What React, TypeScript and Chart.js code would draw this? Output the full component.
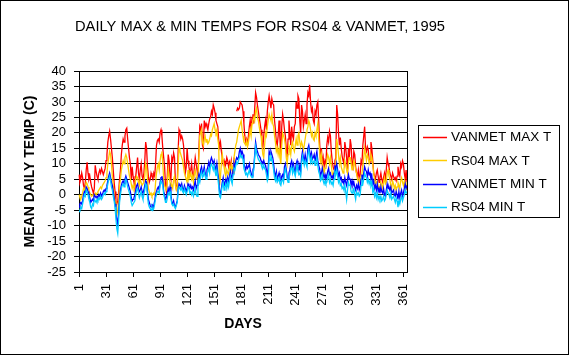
import React, { useEffect, useRef } from "react";
import { Chart, registerables } from "chart.js";

Chart.register(...registerables);

const TITLE = "DAILY MAX & MIN TEMPS FOR RS04 & VANMET, 1995";
const X_TITLE = "DAYS";
const Y_TITLE = "MEAN DAILY TEMP (C)";

const DAYS: string[] = Array.from({ length: 365 }, (_, i) => String(i + 1));
const TICK_DAYS = [1, 31, 61, 91, 121, 151, 181, 211, 241, 271, 301, 331, 361];
const Y_MIN = -25;
const Y_MAX = 40;
const Y_STEP = 5;

const SERIES_NAMES = ["VANMET MAX T", "RS04 MAX T", "VANMET MIN T", "RS04 MIN T"];
const SERIES_COLORS = ["#FF0000", "#FFCC00", "#0000FF", "#00CCFF"];

const VANMET_MAX: (number | null)[] = [
  6.5, 4, 5, 7, 5.5, 3, 2, 4, 8, 10.5,
  7, 5, 6, 4, 2.5, 1.5, 0.5, 2, 9.5, 7.5,
  6, 5, 7, 8, 7, 8.5, 7.5, 6.5, 7.5, 8.5,
  11, 13, 17, 19, 20.5, 18, 15, 12, 8, 4,
  1, -2, -3, -2, 1, 5, 8, 13, 16, 18,
  17, 19, 21, 21.5, 18, 15, 12, 10, 5, 9,
  6, 4, 2, 6, 9, 12, 7, 5, 8, 10,
  6, 5, 7, 11, 17, 15, 9, 6, 4, 5,
  7, 6, 5, 7, 6, 10, 16, 17.5, 18, 17,
  20, 21, 19, 15, 12, 9, 3, 1, 6, 13,
  11, 6, 5, 12, 11, 13.5, 12, 4, 2, 3,
  14, 21, 20, 18, 19, 18, 16, 11, 7, 9,
  15, 11, 9, 7, 8, 10, 6, 5, 9, 12,
  10, 8, 6, 14, 22, 21, 23, 16, 15, 24,
  22, 23, 22, 21, 23, 24.5, 25, 27, 26, 29,
  28, 26.5, 24, 23, 22, 18, 15.5, 17, 14, 12,
  10, 11, 9, 10, 12, 11, 9, 10.5, 9, 11,
  8, 7, 12, null, null, 27, 28, 27.5, 28, 30,
  29.5, 29, 27, 23, 19, 17, 18, 16, 19, 22,
  24, 21, 25, 26, 23, 28, 33, 31.5, 29, 27,
  25, 23, 21, 17, 15, 19, 22, 24, 21, 27,
  30, 32, 30, 28, 31, 29.5, 29, 24, 21, 17,
  16, 19, 24, 18, 13, 22, 26, 24, 21, 19,
  15, 12, 18, 24, 20, 16, 22, 19, 18, 22,
  23, 30, 28, 32, 31, 24, 20, 29, 27, 22,
  24, 26, 23, 29, 33, 32, 35.5, 30, 27, 28,
  24, 23, 27, 26, 29, 30, 24, 17, 11, 15,
  10, 12, 9, 11, 10, 16, 18.5, 17, 20.5, 19,
  14, 11, 9, 8, 11, 12, 29, 26, 20, 16,
  18.5, 15, 12.5, 11, 10, 17, 15, 12, 7, 15,
  12, 18, 16, 10, 9, 14, 13, 9, 7, 6,
  8, 5, 6.5, 11, 10, 16, 19, 22, 15, 14,
  15.5, 14.5, 11, 10.5, 17, 15, 11, 7, 6, 5,
  7, 8, 6, 4, 5.5, 7, 5, 4, 5.5, 7,
  5, 8, 12, 10, 9, 7, 6, 5, 7, 6,
  5, 5.5, 4.5, 6, 9, 7, 6, 10, 9, 11,
  10, 7, 5, 8, 4,
];

const RS04_MAX: number[] = [
  0, -1, -1.5, -0.5, 0.5, 2, 1.5, 2.5, 4, 3.5,
  2.5, 1.5, 0.5, 0, -0.5, 0, -0.5, 0, 0.5, 0,
  0.5, 1, 1.5, 2, 2.5, 2, 3, 3.5, 4, 4.5,
  5.5, 7, 10, 12, 14, 13, 10, 6, 3, 0,
  -2, -5, -6.5, -5, -2, 3, 5, 8, 9.5, 11,
  10, 12, 13, 12, 10, 8, 6, 5, 3.5, 2,
  3, 2, 3, 5, 6, 5.5, 4, 3, 5, 4,
  3, 3, 4, 6, 10, 9, 5, 2, 1, 0,
  0.5, -0.5, 0, 0.5, 0, 4, 7, 9, 10, 8,
  11, 13, 14, 10, 5, 3, 2, 1.5, 4, 8,
  6, 4, 2, 3, 2, 5, 6, 3, 1.5, 2.5,
  9, 15, 14, 13, 12, 11, 9, 7, 6, 5,
  4, 8, 5, 6, 7, 5, 6, 4, 7, 8,
  6, 5, 6, 12, 19, 20, 21, 17, 16, 18,
  19, 17, 18, 16.5, 17, 18, 19.5, 19, 21, 22,
  23, 21, 20, 21, 18, 16, 3, 6, 10, 13,
  11, 9, 7, 6, 8, 7, 6.5, 9, 8, 10,
  8, 9, 12, 14, 16, 17, 19, 21, 22, 23,
  24, 21, 19, 17, 16.5, 16, 17.5, 15.5, 17, 19,
  21, 19, 23, 24, 25, 24, 27, 28, 25, 24,
  22, 20, 19, 16, 13, 12, 16, 20, 19, 22,
  24, 26, 25, 24, 26, 23, 22, 19, 17, 14,
  15, 13, 15, 12, 10, 16, 20, 19, 18, 16,
  12, 10, 13, 16, 15, 13, 16, 17, 15, 14,
  16, 18, 16, 19, 20, 17, 15.5, 17, 16, 14.5,
  16, 18, 20, 21, 22, 24, 23, 21, 19, 20,
  18, 17.5, 20, 19, 21, 23, 18, 14, 11, 13,
  10, 9, 7, 8.5, 9, 11, 13, 12, 10, 12,
  9.5, 7, 6, 7.5, 8, 9, 18, 16, 13, 10,
  12, 9, 8, 7, 8, 11, 9.5, 8, 7, 10,
  12, 12, 10, 8, 9, 11, 10, 8, 7, 5,
  4, 5, 3.5, 6, 7, 9, 12, 15, 13, 11,
  13, 12, 10, 11, 13, 12, 10, 7, 5, 3,
  4, 4.5, 3, 2, 2.5, 4, 3, 2, 4, 5.5,
  3.5, 4, 7, 8, 6, 5, 3, 2, 4.5, 3.5,
  2, 3, 1.5, 2.5, 4, 3, 2, 4.5, 5.5, 4,
  3, 4.5, 2, 3.5, 1.5,
];

const VANMET_MIN: number[] = [
  -4, -3, -2.5, -3, -2, 0, 1, 0.5, 2.5, 2,
  1, 0, -1, -2.5, -2, -1.5, -2, 0, -0.5, -1,
  -0.5, -1, 0, -0.5, 0.5, -0.5, 0, 1, 1.5, 1,
  2, 3, 4.5, 6, 7, 5.5, 4, 3, 1, -1,
  -3, -6, -8, -9.5, -6, -1, 1.5, 3, 4, 4.5,
  3.5, 5, 6, 5, 4, 3, 2, 1, -1, -2,
  -1.5, -1, 0, 1.5, 3, 3.5, 2, 1, 1.5, 2.5,
  1, 0.5, 1.5, 3, 4.5, 4, 1, -1.5, -2.5, -3.5,
  -4, -3, -4.5, -3.5, -2, 0, 1, 2, 2.5, 1.5,
  4, 5.5, 6, 4.5, 1, 0, -1.5, -1, 0.5, 2,
  1, 2.5, 0, -2.5, -3, -2, -3.5, -4, -3, -2,
  2, 3.5, 3, 2.5, 3.5, 2, 1.5, 3, 2, 1,
  2, 3.5, 3, 2, 3, 2, 2.5, 1.5, 3, 4.5,
  2, 3, 5, 6.5, 5, 8, 9, 7, 7.5, 9,
  7, 6, 8, 9, 10.5, 9, 11, 12, 11, 10,
  11, 9, 8, 10, 7, 5, 1, 0, 2, 4,
  5.5, 3, 4, 5, 3.5, 5.5, 4, 6, 7.5, 6,
  5, 8, 10, 9, 11, 12, 11.5, 12, 14, 15,
  13, 14, 13, 10, 9, 8, 9.5, 8.5, 9, 10,
  8, 7, 6, 8, 9, 13, 17, 15, 14, 13,
  12.5, 12, 11, 10.5, 10, 11, 10, 9.5, 8, 6,
  9, 14, 13, 14, 13, 12, 10, 7, 6, 7.5,
  5, 6, 7, 5, 4.5, 6, 6.5, 5, 9, 10,
  8, 6, 5, 7, 8, 10, 11, 9, 10, 8,
  7, 10, 11, 9, 8, 9.5, 7.5, 12, 14, 12,
  11, 13, 11, 10.5, 15, 16, 14, 12, 13.5, 11.5,
  12, 13, 11, 12.5, 14, 11, 9.5, 8.5, 6, 7,
  8.5, 6.5, 5.5, 6.5, 5, 6, 7.5, 8.5, 6.5, 7,
  5.5, 6, 5, 7, 9.5, 8, 10, 8, 6, 7,
  5, 5.5, 4, 4.5, 3.5, 5.5, 4, 3, 5, 6.5,
  5, 5, 3, 4.5, 3, 4, 2.5, 1.5, 3, 2,
  3.5, 1.5, 2.5, 5, 6.5, 5, 7, 9, 8, 7.5,
  6, 8, 6.5, 7, 5, 6, 3.5, 4.5, 2, 3,
  1.5, 3.5, 1, 2, 0.5, 2.5, 1, 0.5, 2, 0,
  -0.5, 1.5, 3.5, 2, 2.5, 1.5, 2.5, 0.5, 1, 1.5,
  0, -0.5, 1, 0, -1.5, 1, -1, 0.5, 1.5, -0.5,
  0.5, 2, 3.5, 2, 3,
];

const RS04_MIN: number[] = [
  -5.5, -5, -4, -4.5, -3, -1.5, 0, -0.5, 1.5, 1,
  0, -1.5, -2.5, -4, -4.5, -3, -3.5, -1.5, -2, -2.5,
  -1.5, -2, -1, -1.5, -0.5, -1.5, -1, 0, 0.5, 0,
  1, 2, 3.5, 5, 6, 4.5, 2.5, 1.5, -0.5, -2,
  -4, -8, -11, -12.5, -8, -2.5, 0, 2, 3, 3.5,
  2.5, 4, 5, 4, 2.5, 1.5, 0.5, -0.5, -2.5, -3.5,
  -3, -3, -2, 0, 1.5, 2, 0.5, -1, 0, 1,
  -0.5, -1.5, 0, 1.5, 3.5, 3, -0.5, -3, -4, -4.5,
  -5, -4, -5, -4.5, -3, -1, 0, 1, 1, 0.5,
  3, 4.5, 4.5, 3, 0, -1, -2.5, -2.5, -1, 0.5,
  0, 1, -1, -3, -3.5, -3, -4, -4.5, -3.5, -2.5,
  1, 2.5, 2, 1.5, 2.5, 1, 0.5, 2, 1, 0,
  1, 2.5, 2, 0.5, 1, 0, 1, -0.5, 0.5, 2,
  0, -0.5, 3, 5, 4, 6.5, 7.5, 5.5, 6, 7.5,
  6, 5, 6.5, 7.5, 8.5, 7, 9.5, 10, 9, 8,
  9.5, 7.5, 6, 8, 5.5, 3, -0.5, -1, 1, 3,
  4, 1.5, 2.5, 3.5, 2, 4, 2.5, 4.5, 6, 4.5,
  3.5, 6.5, 8.5, 8, 9.5, 10.5, 10, 11, 12, 13,
  12, 12.5, 11.5, 8.5, 7.5, 6.5, 7, 6, 7, 8,
  6.5, 6, 5.5, 7, 8, 12, 15.5, 13.5, 12.5, 11.5,
  11, 10.5, 10, 9, 8.5, 9.5, 8.5, 8, 6.5, 4.5,
  5.5, 12, 11, 12.5, 11.5, 10, 8, 5.5, 4.5, 6,
  4, 4.5, 5.5, 3.5, 3, 4.5, 5, 4, 7, 8.5,
  7, 5, 4, 5.5, 6.5, 8.5, 9, 7, 8.5, 7,
  6, 8, 9.5, 7.5, 6.5, 7, 6, 10, 12.5, 11,
  9.5, 11, 10, 9, 13, 14.5, 12.5, 10.5, 12, 10,
  10.5, 11, 9.5, 10.5, 12, 9.5, 7.5, 6.5, 4.5, 5,
  6.5, 4.5, 3.5, 4.5, 3.5, 4, 5.5, 6.5, 4, 5,
  3.5, 4, 3, 5, 7.5, 6.5, 8, 6, 4, 5,
  3, 3.5, 2, 2.5, 1.5, 3, 1, -1.5, 1.5, 4,
  3, 3, 1, 0.5, 1.5, 2, 0, -1.5, 1, 0,
  0.5, -0.5, 0, 3, 4.5, 3.5, 5, 7, 6, 5.5,
  4, 5, 3.5, 4.5, 3, 4, 1, 2, -0.5, 0.5,
  -1, 0.5, -1.5, -0.5, -1.5, -0.5, -2, -1.5, -0.5, -2,
  -1.5, 0, 1.5, 0.5, 0, -1, 0.5, -1.5, -1, -0.5,
  -1.5, -2.5, -1, -2, -4, -2, -3, -1.5, -0.5, -2,
  -1, 0, 1.5, 0.5, 1,
];

const SERIES_DATA = [VANMET_MAX, RS04_MAX, VANMET_MIN, RS04_MIN];

const FONT = '"Liberation Sans", Arial, sans-serif';

const decorPlugin = {
  id: "decor",
  beforeDraw(chart: any) {
    const { ctx, width, height } = chart;
    ctx.save();
    ctx.fillStyle = "#FFFFFF";
    ctx.fillRect(0, 0, width, height);
    ctx.restore();
  },
  afterDraw(chart: any) {
    const { ctx, chartArea: a, width, height } = chart;
    ctx.save();
    ctx.strokeStyle = "#000000";
    ctx.lineWidth = 1;
    // plot area right edge
    const rx = Math.round(a.right) + 0.5;
    ctx.beginPath();
    ctx.moveTo(rx, Math.round(a.top));
    ctx.lineTo(rx, Math.round(a.bottom) + 1);
    ctx.stroke();

    ctx.fillStyle = "#000000";
    ctx.textAlign = "center";
    ctx.textBaseline = "middle";
    // main title
    ctx.font = `14.7px ${FONT}`;
    ctx.fillText(TITLE, 260, 27);
    // x axis title
    ctx.font = `bold 14px ${FONT}`;
    ctx.fillText(X_TITLE, (a.left + a.right) / 2, 324);
    // y axis title
    ctx.save();
    ctx.translate(30, (a.top + a.bottom) / 2);
    ctx.rotate(-Math.PI / 2);
    ctx.fillText(Y_TITLE, 0, 0);
    ctx.restore();

    // legend
    const lx = 418.5, ly = 125.5, lw = 141, lh = 92;
    ctx.strokeRect(lx, ly, lw, lh);
    ctx.font = `13.5px ${FONT}`;
    ctx.textAlign = "left";
    SERIES_NAMES.forEach((name, i) => {
      const y = 137 + i * 23.4;
      ctx.strokeStyle = SERIES_COLORS[i];
      ctx.lineWidth = 1.5;
      ctx.beginPath();
      ctx.moveTo(423, Math.round(y) + 0.5);
      ctx.lineTo(447, Math.round(y) + 0.5);
      ctx.stroke();
      ctx.fillStyle = "#000000";
      ctx.fillText(name, 451, y + 0.5);
    });

    // outer frame
    ctx.strokeStyle = "#000000";
    ctx.lineWidth = 1;
    ctx.strokeRect(0.5, 0.5, width - 1, height - 1);
    ctx.restore();
  },
};

export default function App() {
  const canvasRef = useRef<HTMLCanvasElement | null>(null);

  useEffect(() => {
    if (!canvasRef.current) return;
    const datasets = SERIES_NAMES.map((name, i) => ({
      label: name,
      data: SERIES_DATA[i],
      borderColor: SERIES_COLORS[i],
      backgroundColor: SERIES_COLORS[i],
      borderWidth: 1.3,
      pointRadius: 0,
      tension: 0,
      spanGaps: false,
      fill: false,
      order: 4 - i,
    }));

    const chart = new Chart(canvasRef.current, {
      type: "line",
      data: { labels: DAYS, datasets },
      options: {
        responsive: false,
        animation: false,
        devicePixelRatio: 1,
        layout: { padding: { left: 0, right: 162, top: 71, bottom: 0 } },
        plugins: {
          legend: { display: false },
          title: { display: false },
          tooltip: { enabled: false },
        },
        scales: {
          x: {
            type: "category",
            offset: false,
            afterFit: (s: any) => {
              s.height = 83;
            },
            grid: {
              drawOnChartArea: false,
              drawTicks: true,
              tickLength: 5,
              color: "#000000",
              tickColor: "#000000",
            },
            border: { display: true, color: "#000000", width: 1 },
            ticks: {
              autoSkip: false,
              minRotation: 90,
              maxRotation: 90,
              padding: 7,
              color: "#000000",
              font: { family: FONT, size: 13 },
              callback: (value: any, index: number) =>
                TICK_DAYS.includes(index + 1) ? DAYS[index] : null,
            },
          },
          y: {
            min: Y_MIN,
            max: Y_MAX,
            afterFit: (s: any) => {
              s.width = 79;
            },
            grid: {
              color: "#000000",
              lineWidth: 1,
              drawTicks: true,
              tickLength: 5,
              tickColor: "#000000",
            },
            border: { display: true, color: "#000000", width: 1 },
            ticks: {
              stepSize: Y_STEP,
              autoSkip: false,
              padding: 8,
              color: "#000000",
              font: { family: FONT, size: 13 },
            },
          },
        },
      },
      plugins: [decorPlugin],
    } as any);

    return () => chart.destroy();
  }, []);

  return (
    <div style={{ position: "absolute", left: 0, top: 0, width: 569, height: 355 }}>
      <canvas ref={canvasRef} width={569} height={355} style={{ display: "block" }} />
    </div>
  );
}
